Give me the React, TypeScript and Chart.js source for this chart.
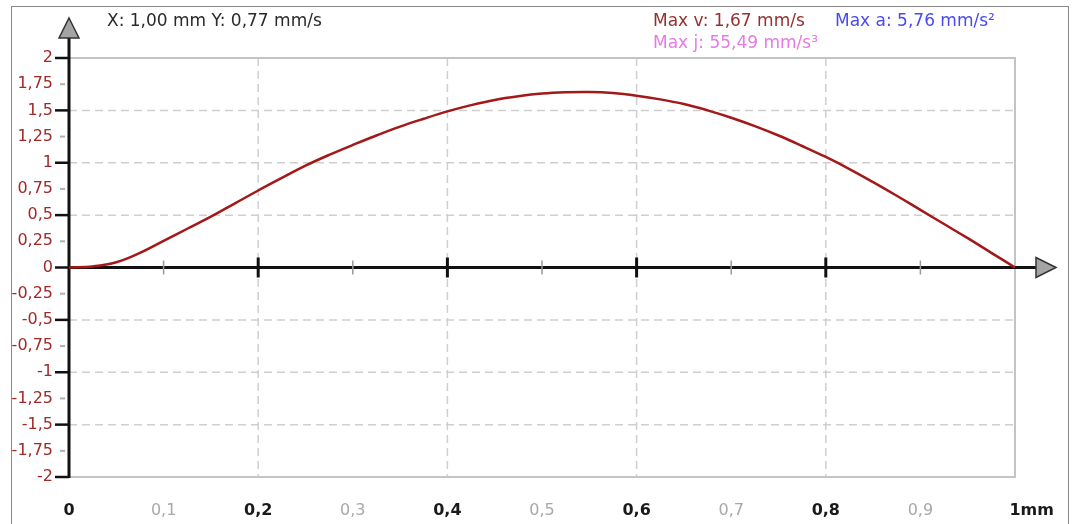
import React, { useEffect, useRef } from "react";
import { Chart, registerables } from "chart.js";

Chart.register(...registerables);

// Position (mm) and velocity (mm/s)
const positions = [0, 0.025, 0.05, 0.075, 0.1, 0.125, 0.15, 0.175, 0.2, 0.225, 0.25, 0.275, 0.3, 0.325, 0.35, 0.375, 0.4, 0.425, 0.45, 0.475, 0.5, 0.525, 0.55, 0.575, 0.6, 0.625, 0.65, 0.675, 0.7, 0.725, 0.75, 0.775, 0.8, 0.825, 0.85, 0.875, 0.9, 0.925, 0.95, 0.975, 1.0];
const velocity = [0, 0.01, 0.05, 0.14, 0.255, 0.37, 0.485, 0.61, 0.735, 0.855, 0.972, 1.075, 1.17, 1.26, 1.345, 1.42, 1.49, 1.55, 1.6, 1.635, 1.66, 1.672, 1.675, 1.665, 1.64, 1.605, 1.56, 1.5, 1.43, 1.35, 1.26, 1.16, 1.055, 0.94, 0.815, 0.685, 0.55, 0.415, 0.28, 0.14, 0];

const xTickLabels = ["0", "0,1", "0,2", "0,3", "0,4", "0,5", "0,6", "0,7", "0,8", "0,9", "1mm"];
const yMajorTicks = [2, 1.5, 1, 0.5, 0, -0.5, -1, -1.5, -2];
const cursorText = "X: 1,00 mm Y: 0,77 mm/s";
const maxV = "Max v: 1,67 mm/s";
const maxA = "Max a: 5,76 mm/s²";
const maxJ = "Max j: 55,49 mm/s³";

const FONT = "'DejaVu Sans', Verdana, sans-serif";

export default function App() {
  const ref = useRef<HTMLCanvasElement>(null);
  useEffect(() => {
    document.body.style.margin = "0";
    const canvas = ref.current!;
    const decor = {
      id: "decor",
      beforeDatasetsDraw(chart: any) {
        const { ctx, chartArea: a, scales } = chart;
        const xs = scales.x, ys = scales.y;
        const y0 = ys.getPixelForValue(0);
        const x0 = xs.getPixelForValue(0);
        ctx.save();
        // outer frame
        ctx.strokeStyle = "#8a8a8a";
        ctx.lineWidth = 1;
        ctx.strokeRect(11.5, 6.5, 1057, 530);
        // grid dashed
        ctx.strokeStyle = "#cfcfcf";
        ctx.lineWidth = 1.5;
        ctx.setLineDash([8, 5]);
        [0.2, 0.4, 0.6, 0.8].forEach((v) => {
          const p = xs.getPixelForValue(v);
          ctx.beginPath(); ctx.moveTo(p, a.top); ctx.lineTo(p, a.bottom); ctx.stroke();
        });
        [1.5, 1, 0.5, -0.5, -1, -1.5].forEach((v) => {
          const p = ys.getPixelForValue(v);
          ctx.beginPath(); ctx.moveTo(a.left, p); ctx.lineTo(a.right, p); ctx.stroke();
        });
        ctx.setLineDash([]);
        // plot border
        ctx.strokeStyle = "#c4c4c4";
        ctx.lineWidth = 2;
        ctx.beginPath();
        ctx.moveTo(a.left, a.top); ctx.lineTo(a.right, a.top); ctx.lineTo(a.right, a.bottom); ctx.lineTo(a.left, a.bottom);
        ctx.stroke();
        // y axis ticks
        ys.ticks.forEach((t: any) => {
          const p = ys.getPixelForValue(t.value);
          const major = yMajorTicks.includes(t.value);
          ctx.beginPath();
          if (major) { ctx.strokeStyle = "#111"; ctx.lineWidth = 2.5; ctx.moveTo(x0 - 14, p); ctx.lineTo(x0, p); }
          else { ctx.strokeStyle = "#b0b0b0"; ctx.lineWidth = 2; ctx.moveTo(x0 - 9, p); ctx.lineTo(x0 - 4, p); }
          ctx.stroke();
        });
        // x axis line
        ctx.strokeStyle = "#111";
        ctx.lineWidth = 3;
        ctx.beginPath(); ctx.moveTo(x0, y0); ctx.lineTo(1037, y0); ctx.stroke();
        // y axis line
        ctx.beginPath(); ctx.moveTo(x0, 37); ctx.lineTo(x0, a.bottom + 1); ctx.stroke();
        // x axis ticks
        xs.ticks.forEach((t: any, i: number) => {
          if (i === 0 || i === xs.ticks.length - 1) return;
          const p = xs.getPixelForValue(t.value);
          ctx.beginPath();
          if (i % 2 === 0) { ctx.strokeStyle = "#111"; ctx.lineWidth = 3; ctx.moveTo(p, y0 - 10); ctx.lineTo(p, y0 + 10); }
          else { ctx.strokeStyle = "#999"; ctx.lineWidth = 1.5; ctx.moveTo(p, y0 - 7); ctx.lineTo(p, y0 + 7); }
          ctx.stroke();
        });
        // arrows
        ctx.fillStyle = "#a4a4a4";
        ctx.strokeStyle = "#333";
        ctx.lineWidth = 1.5;
        ctx.beginPath(); ctx.moveTo(x0, 18); ctx.lineTo(x0 + 10, 38); ctx.lineTo(x0 - 10, 38); ctx.closePath(); ctx.fill(); ctx.stroke();
        ctx.beginPath(); ctx.moveTo(1056, y0); ctx.lineTo(1036, y0 - 10); ctx.lineTo(1036, y0 + 10); ctx.closePath(); ctx.fill(); ctx.stroke();
        // last x label: the "1" sits on the tick, the unit follows
        ctx.font = `bold 16px ${FONT}`;
        ctx.fillStyle = "#1a1a1a";
        ctx.textBaseline = "middle";
        ctx.textAlign = "left";
        const xEnd = xs.getPixelForValue(1);
        const oneW = ctx.measureText("1").width;
        ctx.fillText(xTickLabels[xTickLabels.length - 1], xEnd - oneW / 2, 511);
        // texts
        ctx.font = `17px ${FONT}`;
        ctx.fillStyle = "#2a2a2a";
        ctx.fillText(cursorText, 107, 22);
        ctx.fillStyle = "#963030";
        ctx.fillText(maxV, 653, 22);
        ctx.fillStyle = "#4a4af0";
        ctx.fillText(maxA, 835, 22);
        ctx.fillStyle = "#e67ae6";
        ctx.fillText(maxJ, 653, 44);
        ctx.restore();
      },
    };
    const chart = new Chart(canvas, {
      type: "line",
      data: {
        datasets: [
          {
            data: positions.map((x, i) => ({ x, y: velocity[i] })),
            borderColor: "#a31818",
            borderWidth: 2.5,
            pointRadius: 0,
            tension: 0.4,
            fill: false,
          },
        ],
      },
      options: {
        animation: false,
        responsive: false,
        events: [],
        layout: { padding: { top: 58, right: 62, left: 0, bottom: 0 } },
        plugins: { legend: { display: false }, tooltip: { enabled: false }, title: { display: false } },
        scales: {
          x: {
            type: "linear",
            min: 0,
            max: 1,
            afterFit: (s: any) => { s.height = 47; },
            grid: { display: false, drawTicks: false },
            border: { display: false },
            ticks: {
              stepSize: 0.1,
              autoSkip: false,
              maxRotation: 0,
              padding: 24,
              callback: (_v: any, i: number) => (i === xTickLabels.length - 1 ? "" : xTickLabels[i]),
              color: (c: any) => (c.index % 2 === 0 ? "#1a1a1a" : "#a8a8a8"),
              font: (c: any) => ({ family: FONT, size: 16, weight: c.index % 2 === 0 ? "bold" : "normal" }),
            },
          },
          y: {
            type: "linear",
            min: -2,
            max: 2,
            afterFit: (s: any) => { s.width = 69; },
            grid: { display: false, drawTicks: false },
            border: { display: false },
            ticks: {
              stepSize: 0.25,
              autoSkip: false,
              padding: 16,
              callback: (v: any) => String(Math.round(v * 100) / 100).replace(".", ","),
              color: "#a02a28",
              font: { family: FONT, size: 16 },
            },
          },
        },
      },
      plugins: [decor],
    });
    return () => chart.destroy();
  }, []);
  return (
    <div style={{ width: 1077, height: 524, background: "#fff" }}>
      <canvas ref={ref} width={1077} height={524} style={{ width: 1077, height: 524, display: "block" }} />
    </div>
  );
}
